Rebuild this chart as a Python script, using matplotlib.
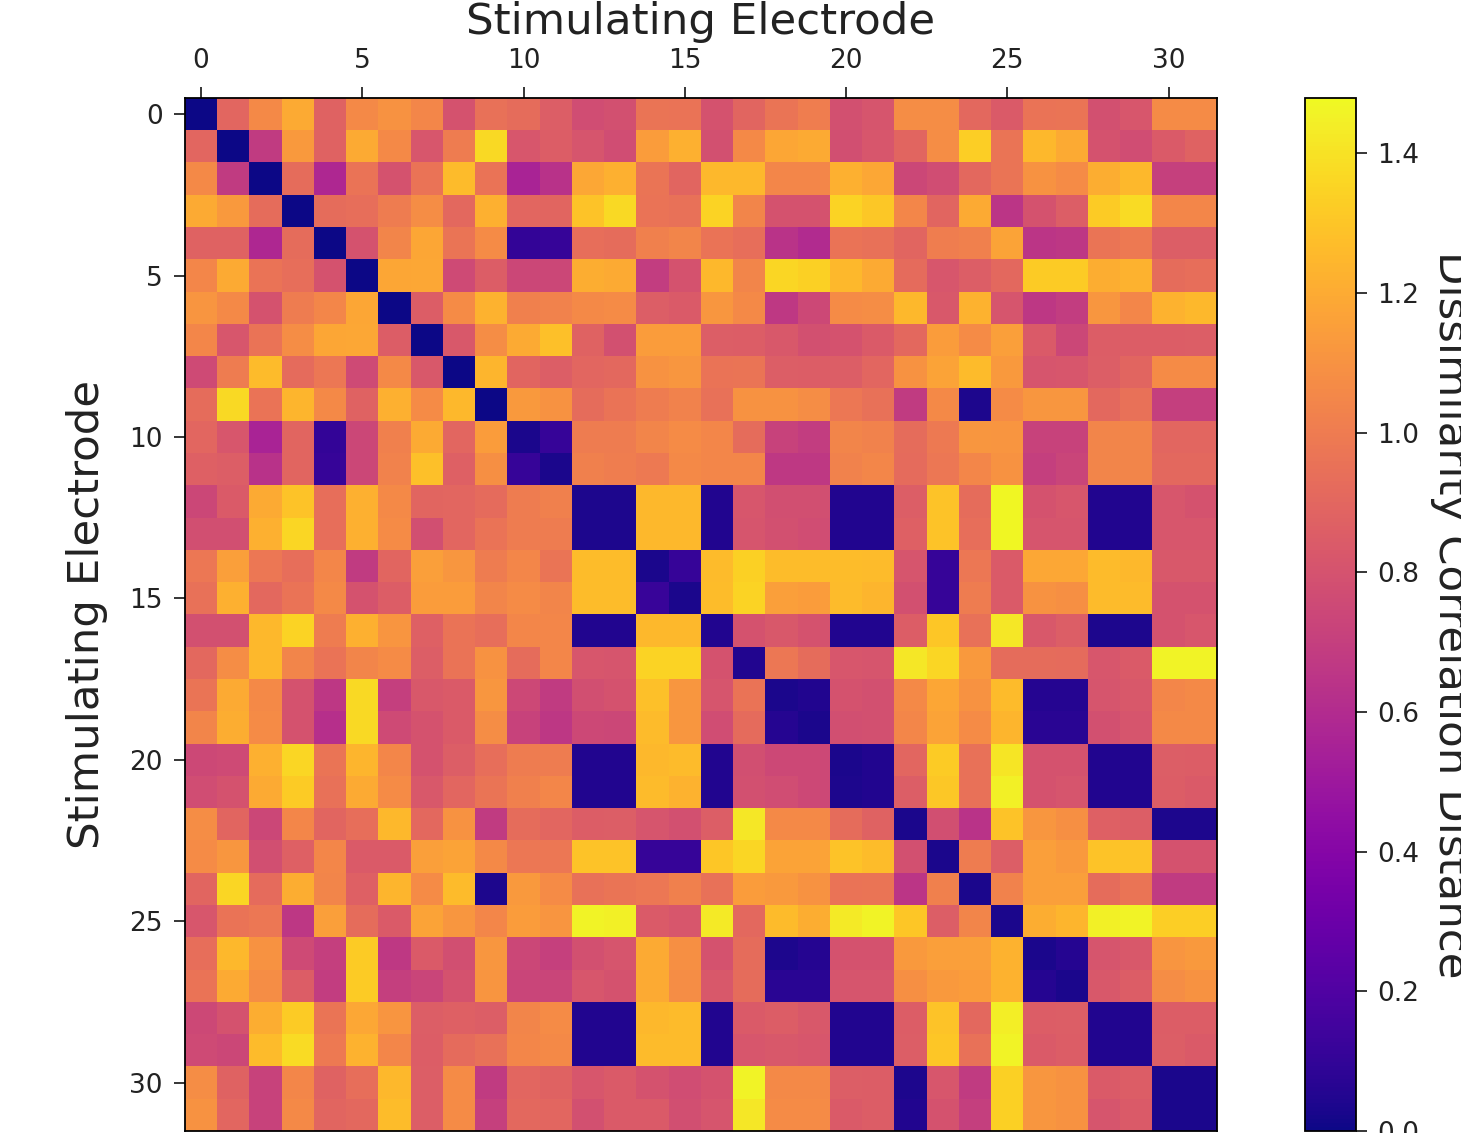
import numpy as np
import matplotlib
matplotlib.use('Agg')
import matplotlib.pyplot as plt

# dissimilarity per electrode pair
dissim = [
    [0,.90,1.06,1.20,.88,1.06,1.10,1.05,.80,.95,.93,.86,.77,.79,.97,.96,.80,.89,.97,1.01,.79,.81,1.08,1.08,.91,.84,.96,.97,.79,.82,1.07,1.07],
    [.90,0,.68,1.13,.88,1.20,1.06,.82,1.0,1.37,.82,.85,.81,.77,1.14,1.22,.79,1.06,1.18,1.20,.78,.82,.89,1.08,1.33,.97,1.25,1.20,.80,.77,.84,.88],
    [1.06,.68,0,.93,.58,.96,.80,.96,1.26,.96,.56,.63,1.19,1.22,.97,.89,1.25,1.25,1.05,1.05,1.22,1.19,.74,.77,.91,.97,1.10,1.07,1.21,1.25,.71,.71],
    [1.20,1.13,.93,0,.93,.94,1.0,1.08,.91,1.22,.90,.89,1.29,1.37,.96,.95,1.35,1.04,.80,.80,1.35,1.31,1.05,.89,1.20,.65,.80,.86,1.32,1.38,1.05,1.05],
    [.88,.88,.58,.93,0,.80,1.04,1.18,.97,1.07,.10,.11,.94,.93,1.02,1.04,.96,.94,.64,.60,.96,.95,.89,1.01,1.02,1.17,.65,.66,.97,.99,.86,.86],
    [1.05,1.2,.96,.94,.80,0,1.18,1.19,.76,.85,.74,.74,1.21,1.2,.69,.80,1.25,1.04,1.36,1.34,1.25,1.2,.92,.82,.86,.91,1.32,1.32,1.21,1.23,.93,.94],
    [1.11,1.06,.80,1.0,1.05,1.18,0,.85,1.07,1.23,1.02,1.03,1.06,1.07,.86,.84,1.12,1.06,.67,.75,1.07,1.08,1.25,.83,1.23,.81,.66,.69,1.12,1.05,1.23,1.25],
    [1.05,.82,.96,1.08,1.18,1.19,.85,0,.83,1.08,1.2,1.28,.88,.79,1.14,1.14,.86,.85,.83,.79,.80,.84,.91,1.14,1.07,1.15,.84,.74,.85,.85,.85,.86],
    [.76,1.0,1.26,.92,.98,.76,1.06,.83,0,1.24,.89,.86,.90,.91,1.1,1.12,.96,.97,.86,.85,.86,.90,1.1,1.17,1.26,1.13,.81,.82,.86,.89,1.07,1.07],
    [.93,1.37,.96,1.24,1.06,.88,1.22,1.07,1.25,0,1.13,1.1,.93,.96,1.0,1.03,.95,1.1,1.1,1.08,.98,.95,.68,1.06,.04,1.07,1.12,1.12,.91,.95,.70,.70],
    [.90,.82,.56,.89,.10,.74,1.02,1.20,.90,1.14,.03,.11,1.0,1.0,1.04,1.07,1.05,.93,.72,.69,1.04,1.03,.93,.99,1.12,1.11,.72,.72,1.04,1.04,.90,.90],
    [.87,.86,.63,.89,.11,.74,1.03,1.28,.87,1.09,.11,.03,1.02,1.01,.99,1.06,1.05,1.05,.67,.67,1.03,1.05,.92,.98,1.05,1.1,.70,.73,1.04,1.04,.91,.91],
    [.74,.84,1.2,1.29,.94,1.22,1.06,.89,.90,.92,1.0,1.02,.04,.04,1.25,1.25,.05,.82,.78,.78,.05,.05,.86,1.29,.93,1.47,.80,.82,.05,.05,.82,.80],
    [.78,.78,1.22,1.36,.94,1.22,1.07,.78,.90,.96,1.0,1.0,.04,.04,1.25,1.25,.05,.81,.79,.77,.05,.05,.87,1.29,.94,1.47,.81,.81,.05,.05,.82,.82],
    [.98,1.15,.98,.94,1.05,.68,.89,1.15,1.12,1.0,1.05,.97,1.27,1.27,.03,.11,1.26,1.34,1.27,1.27,1.27,1.26,.81,.11,.98,.84,1.19,1.19,1.26,1.25,.83,.83],
    [.95,1.22,.91,.96,1.06,.80,.85,1.14,1.14,1.04,1.07,1.04,1.27,1.27,.12,.03,1.27,1.35,1.15,1.14,1.26,1.24,.79,.11,1.0,.84,1.1,1.09,1.26,1.26,.8,.8],
    [.79,.79,1.25,1.35,1.0,1.22,1.11,.87,.96,.94,1.05,1.05,.05,.05,1.25,1.25,.05,.80,.83,.80,.05,.05,.85,1.3,.95,1.42,.83,.86,.04,.04,.80,.82],
    [.91,1.08,1.25,1.04,.96,1.04,1.07,.86,.96,1.1,.93,1.05,.82,.81,1.35,1.35,.8,.05,.98,.93,.82,.81,1.42,1.36,1.13,.93,.93,.92,.82,.84,1.46,1.46],
    [.97,1.2,1.06,.80,.66,1.37,.70,.83,.84,1.12,.75,.68,.78,.80,1.28,1.12,.81,.96,.03,.05,.80,.79,1.06,1.18,1.1,1.26,.06,.06,.81,.83,1.05,1.06],
    [1.04,1.21,1.07,.80,.62,1.37,.76,.80,.84,1.08,.72,.66,.75,.74,1.26,1.12,.77,.92,.06,.03,.78,.79,1.05,1.17,1.07,1.24,.07,.07,.79,.81,1.06,1.06],
    [.75,.76,1.22,1.36,.97,1.24,1.05,.80,.86,.94,1.0,1.0,.05,.05,1.25,1.26,.05,.78,.75,.75,.03,.05,.90,1.32,.95,1.41,.80,.80,.05,.05,.86,.85],
    [.77,.80,1.2,1.32,.95,1.2,1.07,.83,.90,.97,1.02,1.05,.05,.05,1.26,1.23,.05,.79,.77,.75,.04,.05,.86,1.31,.95,1.45,.80,.81,.05,.05,.85,.84],
    [1.08,.89,.74,1.05,.89,.94,1.25,.91,1.1,.68,.93,.90,.85,.86,.81,.79,.86,1.42,1.06,1.06,.93,.88,.03,.78,.64,1.29,1.12,1.09,.87,.86,.04,.04],
    [1.07,1.12,.78,.87,1.05,.84,.84,1.15,1.17,1.06,.98,.98,1.29,1.29,.11,.11,1.3,1.36,1.17,1.17,1.29,1.27,.79,.03,1.0,.86,1.15,1.13,1.29,1.29,.80,.80],
    [.89,1.36,.92,1.21,1.04,.87,1.24,1.07,1.26,.04,1.13,1.07,.95,.97,.98,1.02,.95,1.14,1.13,1.1,.96,.97,.65,1.02,.03,1.03,1.15,1.15,.93,.97,.68,.68],
    [.82,.96,.98,.66,1.15,.93,.84,1.17,1.12,1.05,1.14,1.11,1.46,1.45,.84,.82,1.43,.91,1.26,1.21,1.43,1.46,1.3,.86,1.04,.03,1.21,1.24,1.45,1.46,1.33,1.33],
    [.94,1.25,1.1,.76,.70,1.32,.67,.84,.78,1.12,.74,.71,.79,.81,1.2,1.09,.80,.93,.04,.06,.80,.80,1.13,1.15,1.15,1.23,.03,.06,.81,.83,1.11,1.13],
    [.96,1.2,1.08,.85,.69,1.32,.70,.73,.80,1.11,.73,.73,.82,.80,1.2,1.08,.83,.93,.07,.07,.81,.81,1.09,1.13,1.14,1.23,.06,.03,.83,.85,1.08,1.1],
    [.75,.80,1.21,1.32,.97,1.19,1.11,.86,.87,.86,1.04,1.07,.05,.05,1.25,1.26,.05,.84,.85,.83,.05,.05,.85,1.29,.91,1.44,.85,.86,.05,.05,.85,.85],
    [.76,.74,1.26,1.38,.99,1.23,1.05,.85,.92,.95,1.05,1.06,.05,.05,1.26,1.26,.05,.82,.83,.82,.05,.05,.86,1.3,.95,1.46,.84,.85,.05,.05,.86,.84],
    [1.08,.88,.72,1.05,.88,.94,1.25,.86,1.07,.68,.90,.88,.82,.84,.80,.77,.80,1.46,1.06,1.06,.86,.85,.04,.82,.68,1.34,1.12,1.1,.84,.85,.03,.03],
    [1.1,.90,.72,1.06,.89,.91,1.27,.86,1.07,.71,.91,.90,.79,.84,.84,.78,.81,1.42,1.07,1.07,.84,.85,.05,.80,.70,1.34,1.12,1.1,.81,.84,.03,.03],
]
electrode_ticks = [0, 5, 10, 15, 20, 25, 30]
cbar_ticks = [0.0, 0.2, 0.4, 0.6, 0.8, 1.0, 1.2, 1.4]
axis_label = 'Stimulating Electrode'
cbar_label = 'Dissimilarity Correlation Distance'
vmax = 1.479

W = 1461.0
H = 1133.0
fig = plt.figure(figsize=(W/100, H/100), dpi=100)

ax = fig.add_axes([185/W, 1-1131/H, 1032/W, 1033/H])
im = ax.imshow(np.array(dissim), cmap='plasma', vmin=0, vmax=vmax, interpolation='nearest', aspect='auto')
ax.xaxis.tick_top()
ax.xaxis.set_label_position('top')
ax.set_xticks(electrode_ticks)
ax.set_yticks(electrode_ticks)
ax.tick_params(labelsize=19, length=8, width=1.1, pad=8, labelcolor='#222222')
ax.tick_params(axis='x', pad=9)
ax.set_xlabel(axis_label, fontsize=31.3, labelpad=10.5, color='#222222')
ax.set_ylabel(axis_label, fontsize=31.3, labelpad=15, color='#222222')

cax = fig.add_axes([1305/W, 1-1131/H, 51/W, 1033/H])
cbar = fig.colorbar(im, cax=cax, ticks=cbar_ticks)
cbar.ax.tick_params(labelsize=19, length=8, width=1.1, pad=7, labelcolor='#222222')
cbar.set_label(cbar_label, fontsize=31.3, rotation=270, labelpad=38, color='#222222')

for a in [ax, cax]:
    for s in a.spines.values():
        s.set_linewidth(1.3)

fig.savefig('out.png', dpi=100)
